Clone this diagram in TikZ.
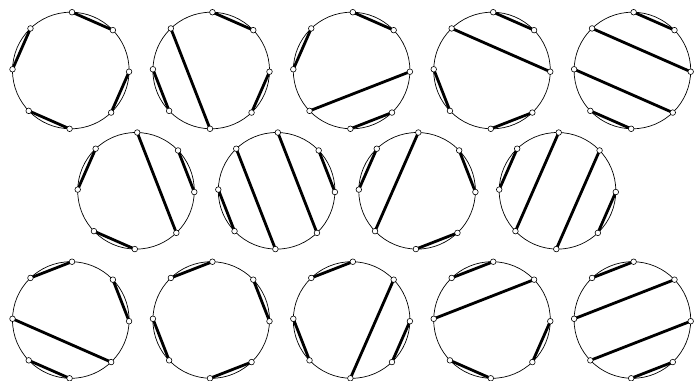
\documentclass[tikz,border=0pt]{standalone}
\begin{document}
\begin{tikzpicture}[x=1pt,y=-1pt,
  vtx/.style={circle,draw,fill=white,inner sep=0pt,minimum size=5.6pt,line width=0.6pt},
  chord/.style={line width=2.8pt},
  rim/.style={line width=0.7pt}]
\useasboundingbox (0,0) rectangle (700,380);
\foreach \id/\cx/\cy/\m in {
  1/70.8/70.5/{0/1,2/3,4/5,6/7},
  2/211.2/70.5/{0/1,2/3,7/4,6/5},
  3/351.6/70.5/{0/1,7/6,2/5,3/4},
  4/492.0/70.5/{0/1,7/2,6/5,3/4},
  5/632.4/70.5/{0/1,7/2,6/3,5/4},
  6/136.0/190.8/{0/3,1/2,7/6,5/4},
  7/276.6/190.8/{0/3,7/4,6/5,1/2},
  8/417.1/190.8/{0/5,7/6,1/2,3/4},
  9/557.5/190.8/{0/5,7/6,1/4,2/3},
  10/70.8/320.0/{0/7,1/2,6/3,5/4},
  11/211.2/320.0/{0/7,1/2,3/4,5/6},
  12/351.6/320.0/{0/7,1/4,2/3,5/6},
  13/492.0/320.0/{0/7,1/6,2/3,4/5},
  14/632.4/320.0/{0/7,1/6,2/5,3/4}}{
  \draw[rim] (\cx,\cy) circle[radius=58.3];
  \foreach \k in {0,...,7}{
    \pgfmathsetmacro\ang{90-45*\k-1.2}
    \coordinate (p\id-\k) at ({\cx+58.3*cos(\ang)},{\cy-58.3*sin(\ang)});
  }
  \foreach \p/\q in \m { \draw[chord] (p\id-\p) -- (p\id-\q); }
  \foreach \k in {0,...,7}{ \node[vtx] (n\id-\k) at (p\id-\k) {}; }
}
\end{tikzpicture}
\end{document}
